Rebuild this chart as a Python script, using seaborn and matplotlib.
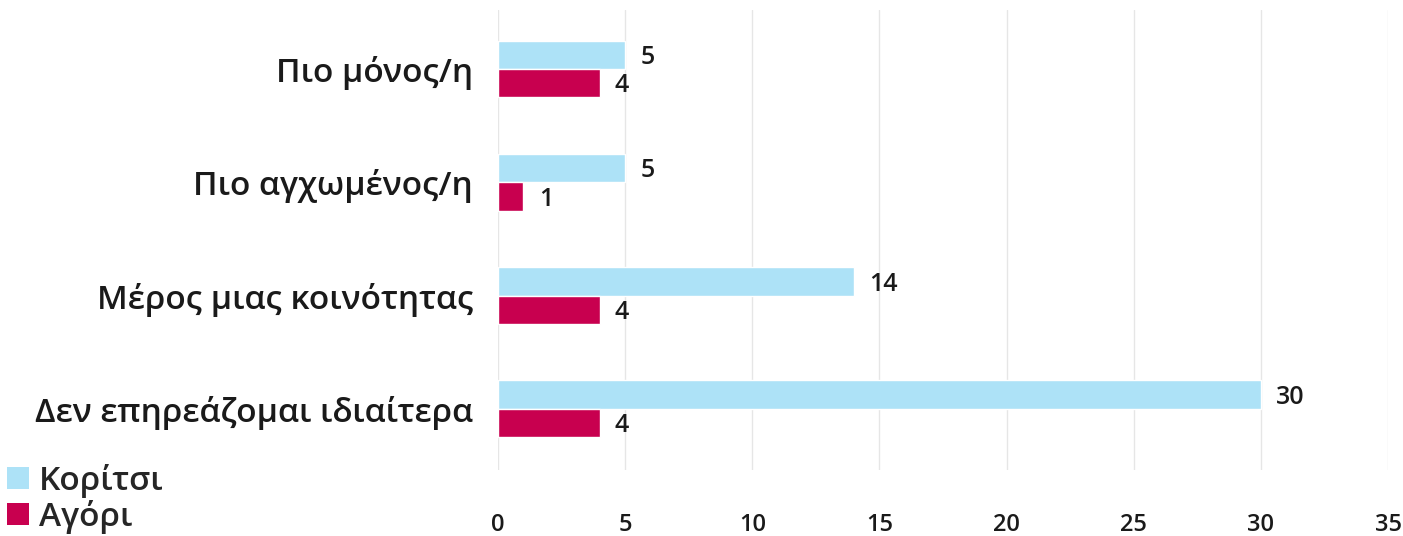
import matplotlib
matplotlib.use("Agg")
import matplotlib.pyplot as plt
from matplotlib import font_manager
import seaborn as sns
import pandas as pd
from matplotlib.patches import Patch

categories = ["Πιο μόνος/η", "Πιο αγχωμένος/η", "Μέρος μιας κοινότητας", "Δεν επηρεάζομαι ιδιαίτερα"]
girls = [5, 5, 14, 30]
boys = [4, 1, 4, 4]
series_names = ["Κορίτσι", "Αγόρι"]
colors = ["#ADE2F7", "#C8004F"]
xticks = [0, 5, 10, 15, 20, 25, 30, 35]

df = pd.DataFrame({
    "cat": categories * 2,
    "value": girls + boys,
    "series": [series_names[0]] * len(categories) + [series_names[1]] * len(categories),
})

sns.set_theme(style="white")

# pick a family that really has a semibold/bold face
prefs = ["Open Sans", "Inter", "Roboto", "Lato", "Noto Sans", "DejaVu Sans"]
fam, wt = "DejaVu Sans", "bold"
found = {}
for f in font_manager.fontManager.ttflist:
    w = f.weight if isinstance(f.weight, int) else 400
    if f.name in prefs and f.style == "normal" and 550 <= w <= 720:
        found.setdefault(f.name, []).append(w)
for p in prefs:
    if p in found:
        fam = p
        wt = min(found[p], key=lambda v: abs(v - 600))
        break
plt.rcParams["font.family"] = [fam, "DejaVu Sans"]
plt.rcParams["font.weight"] = wt

W, H = 1403, 536
fig = plt.figure(figsize=(W / 100, H / 100), dpi=100)
ax = fig.add_axes([498 / W, 1 - 470 / H, (1388 - 498) / W, 460 / H])

sns.barplot(data=df, y="cat", x="value", hue="series", order=categories,
            hue_order=series_names, palette=colors, orient="h", width=0.5,
            dodge=True, legend=False, ax=ax, saturation=1)

for cont in ax.containers:
    txts = ax.bar_label(cont, padding=11, fontsize=18, fontweight=wt, color="#1a1a1a")
    for t in txts:
        x, y = t.xyann
        t.xyann = (x, y - 2)

ax.set_xlim(0, 35)
ax.set_ylim(3.54, -0.52)
ax.set_xticks(xticks)
ax.set_xticklabels([str(t) for t in xticks])
ax.set_xlabel("")
ax.set_ylabel("")
ax.grid(axis="x", color="#E6E6E6", linewidth=1)
ax.grid(axis="y", visible=False)
ax.set_axisbelow(True)
for s in ax.spines.values():
    s.set_visible(False)
ax.tick_params(axis="x", length=0, pad=31, labelsize=17, labelcolor="#1a1a1a")
ax.tick_params(axis="y", length=0, pad=18, labelsize=24, labelcolor="#1a1a1a")
for lbl in ax.get_xticklabels() + ax.get_yticklabels():
    lbl.set_fontweight(wt)

handles = [Patch(facecolor=c, edgecolor="none") for c in colors]
fig.legend(handles, series_names, loc="lower left", bbox_to_anchor=(-0.002, -0.014),
           frameon=False, handlelength=0.65, handleheight=0.65,
           handletextpad=0.3, labelspacing=0.05, borderaxespad=0.1,
           borderpad=0.2, prop={"weight": wt, "size": 24, "family": [fam, "DejaVu Sans"]})

fig.savefig("out.png", dpi=100)
